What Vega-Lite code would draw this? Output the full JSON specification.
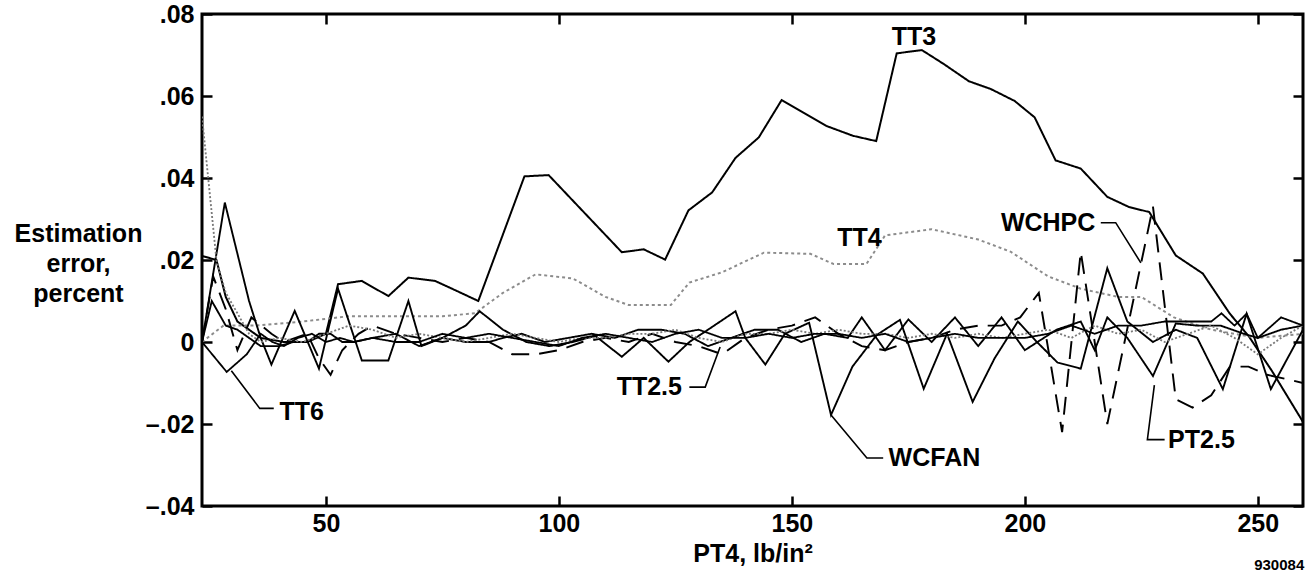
{
  "$schema": "https://vega.github.io/schema/vega-lite/v6.json",
  "width": 1101,
  "height": 492,
  "autosize": {"type": "none"},
  "padding": {"left": 202, "top": 14, "right": 12, "bottom": 73},
  "background": "white",
  "config": {
    "view": {"stroke": "black", "strokeWidth": 3},
    "font": "Liberation Sans",
    "axis": {
      "grid": false, "domain": false,
      "labelFont": "Liberation Sans", "labelFontSize": 25, "labelFontWeight": "bold", "labelColor": "black",
      "tickColor": "black", "tickWidth": 2.5, "tickSize": -10,
      "titleFont": "Liberation Sans", "titleFontSize": 25, "titleFontWeight": "bold", "titleColor": "black"
    }
  },
  "title": {"text": "930084", "orient": "bottom", "anchor": "end", "fontSize": 15, "fontWeight": "bold", "font": "Liberation Sans", "color": "black", "offset": -8},
  "datasets": {
    "series": [
      {"s":"TT3","x":23.4,"y":0.021},{"s":"TT3","x":26.5,"y":0.020},{"s":"TT3","x":28.5,"y":0.011},{"s":"TT3","x":31,"y":0.005},{"s":"TT3","x":36,"y":0.001},{"s":"TT3","x":41,"y":0.0},{"s":"TT3","x":46,"y":0.0},{"s":"TT3","x":50,"y":0.002},{"s":"TT3","x":52.6,"y":0.0141},{"s":"TT3","x":57.7,"y":0.0149},{"s":"TT3","x":63.4,"y":0.0112},{"s":"TT3","x":67.7,"y":0.0157},{"s":"TT3","x":73.4,"y":0.0149},{"s":"TT3","x":78,"y":0.0125},{"s":"TT3","x":82.7,"y":0.0100},{"s":"TT3","x":92.6,"y":0.0404},{"s":"TT3","x":97.8,"y":0.0407},{"s":"TT3","x":113.5,"y":0.0219},{"s":"TT3","x":118.2,"y":0.0226},{"s":"TT3","x":122.8,"y":0.0201},{"s":"TT3","x":127.8,"y":0.0321},{"s":"TT3","x":132.9,"y":0.0365},{"s":"TT3","x":137.9,"y":0.0449},{"s":"TT3","x":142.9,"y":0.0499},{"s":"TT3","x":147.8,"y":0.0590},{"s":"TT3","x":157.4,"y":0.0527},{"s":"TT3","x":163.1,"y":0.0503},{"s":"TT3","x":168.1,"y":0.0490},{"s":"TT3","x":172.5,"y":0.0704},{"s":"TT3","x":177.9,"y":0.0712},{"s":"TT3","x":182.6,"y":0.0678},{"s":"TT3","x":188,"y":0.0636},{"s":"TT3","x":192.7,"y":0.0617},{"s":"TT3","x":197.8,"y":0.0588},{"s":"TT3","x":202.1,"y":0.0548},{"s":"TT3","x":206.6,"y":0.0443},{"s":"TT3","x":212,"y":0.0423},{"s":"TT3","x":217.7,"y":0.0354},{"s":"TT3","x":222.4,"y":0.0329},{"s":"TT3","x":226.7,"y":0.0317},{"s":"TT3","x":232.4,"y":0.0211},{"s":"TT3","x":238.2,"y":0.0167},{"s":"TT3","x":244,"y":0.0069},{"s":"TT3","x":248,"y":0.0015},{"s":"TT3","x":253,"y":-0.007},{"s":"TT3","x":259.7,"y":-0.0195},

      {"s":"TT4","x":23.4,"y":0.0},{"s":"TT4","x":28,"y":0.004},{"s":"TT4","x":35,"y":0.004},{"s":"TT4","x":45,"y":0.005},{"s":"TT4","x":55,"y":0.0063},{"s":"TT4","x":65,"y":0.0063},{"s":"TT4","x":75,"y":0.0063},{"s":"TT4","x":82,"y":0.007},{"s":"TT4","x":88,"y":0.012},{"s":"TT4","x":95,"y":0.0165},{"s":"TT4","x":103,"y":0.0155},{"s":"TT4","x":110,"y":0.011},{"s":"TT4","x":115,"y":0.009},{"s":"TT4","x":124,"y":0.009},{"s":"TT4","x":128,"y":0.0145},{"s":"TT4","x":135,"y":0.017},{"s":"TT4","x":144,"y":0.0218},{"s":"TT4","x":154,"y":0.0215},{"s":"TT4","x":159,"y":0.019},{"s":"TT4","x":166,"y":0.019},{"s":"TT4","x":170,"y":0.026},{"s":"TT4","x":180,"y":0.0275},{"s":"TT4","x":190,"y":0.025},{"s":"TT4","x":197,"y":0.022},{"s":"TT4","x":205,"y":0.016},{"s":"TT4","x":212,"y":0.013},{"s":"TT4","x":220,"y":0.011},{"s":"TT4","x":225,"y":0.011},{"s":"TT4","x":232,"y":0.006},{"s":"TT4","x":240,"y":0.003},{"s":"TT4","x":250,"y":0.001},{"s":"TT4","x":259.7,"y":0.002},

      {"s":"WCHPC","x":23.4,"y":0.0},{"s":"WCHPC","x":25.8,"y":0.016},{"s":"WCHPC","x":28.5,"y":0.008},{"s":"WCHPC","x":31,"y":-0.002},{"s":"WCHPC","x":34,"y":0.006},{"s":"WCHPC","x":38.3,"y":0.002},{"s":"WCHPC","x":41,"y":0.0},{"s":"WCHPC","x":46,"y":0.002},{"s":"WCHPC","x":48.5,"y":-0.004},{"s":"WCHPC","x":51,"y":-0.008},{"s":"WCHPC","x":53.5,"y":-0.002},{"s":"WCHPC","x":57,"y":0.002},{"s":"WCHPC","x":60,"y":0.004},{"s":"WCHPC","x":65,"y":0.002},{"s":"WCHPC","x":70,"y":0.001},{"s":"WCHPC","x":75,"y":0.0},{"s":"WCHPC","x":80,"y":0.001},{"s":"WCHPC","x":85,"y":0.0},{"s":"WCHPC","x":90,"y":-0.003},{"s":"WCHPC","x":95,"y":-0.003},{"s":"WCHPC","x":100,"y":-0.002},{"s":"WCHPC","x":105,"y":0.0},{"s":"WCHPC","x":110,"y":0.001},{"s":"WCHPC","x":115,"y":0.0},{"s":"WCHPC","x":120,"y":0.002},{"s":"WCHPC","x":125,"y":0.0},{"s":"WCHPC","x":130,"y":-0.001},{"s":"WCHPC","x":135,"y":-0.003},{"s":"WCHPC","x":140,"y":0.001},{"s":"WCHPC","x":145,"y":0.003},{"s":"WCHPC","x":150,"y":0.004},{"s":"WCHPC","x":155,"y":0.006},{"s":"WCHPC","x":160,"y":0.002},{"s":"WCHPC","x":165,"y":-0.001},{"s":"WCHPC","x":170,"y":-0.002},{"s":"WCHPC","x":175,"y":0.0},{"s":"WCHPC","x":180,"y":0.001},{"s":"WCHPC","x":185,"y":0.003},{"s":"WCHPC","x":190,"y":0.004},{"s":"WCHPC","x":195,"y":0.004},{"s":"WCHPC","x":199,"y":0.006},{"s":"WCHPC","x":203,"y":0.012},{"s":"WCHPC","x":208,"y":-0.022},{"s":"WCHPC","x":212,"y":0.022},{"s":"WCHPC","x":217.7,"y":-0.02},{"s":"WCHPC","x":227.5,"y":0.033},{"s":"WCHPC","x":232.4,"y":-0.014},{"s":"WCHPC","x":236,"y":-0.016},{"s":"WCHPC","x":240,"y":-0.013},{"s":"WCHPC","x":244,"y":-0.006},{"s":"WCHPC","x":248,"y":-0.006},{"s":"WCHPC","x":252,"y":-0.008},{"s":"WCHPC","x":256,"y":-0.009},{"s":"WCHPC","x":259.7,"y":-0.01},

      {"s":"WCFAN","x":23.4,"y":0.0},{"s":"WCFAN","x":28.3,"y":0.034},{"s":"WCFAN","x":33.5,"y":0.010},{"s":"WCFAN","x":36,"y":0.001},{"s":"WCFAN","x":38.3,"y":-0.0055},{"s":"WCFAN","x":43.3,"y":0.0076},{"s":"WCFAN","x":48.5,"y":-0.0065},{"s":"WCFAN","x":52.6,"y":0.013},{"s":"WCFAN","x":55.5,"y":0.003},{"s":"WCFAN","x":57.7,"y":-0.0045},{"s":"WCFAN","x":63.4,"y":-0.0045},{"s":"WCFAN","x":67.7,"y":0.010},{"s":"WCFAN","x":70.5,"y":-0.001},{"s":"WCFAN","x":75,"y":0.001},{"s":"WCFAN","x":80,"y":0.004},{"s":"WCFAN","x":83,"y":0.0075},{"s":"WCFAN","x":88,"y":0.003},{"s":"WCFAN","x":93,"y":0.0},{"s":"WCFAN","x":98,"y":-0.001},{"s":"WCFAN","x":103,"y":0.0},{"s":"WCFAN","x":107.8,"y":0.0015},{"s":"WCFAN","x":113.5,"y":-0.0036},{"s":"WCFAN","x":118.2,"y":0.001},{"s":"WCFAN","x":123.5,"y":-0.0048},{"s":"WCFAN","x":128,"y":0.0},{"s":"WCFAN","x":132,"y":0.003},{"s":"WCFAN","x":137.9,"y":0.0075},{"s":"WCFAN","x":140,"y":0.001},{"s":"WCFAN","x":144.3,"y":-0.0055},{"s":"WCFAN","x":148.5,"y":0.002},{"s":"WCFAN","x":153.7,"y":0.0047},{"s":"WCFAN","x":158.4,"y":-0.0178},{"s":"WCFAN","x":163,"y":-0.006},{"s":"WCFAN","x":168.2,"y":0.0017},{"s":"WCFAN","x":173.2,"y":0.0054},{"s":"WCFAN","x":178.3,"y":-0.0114},{"s":"WCFAN","x":183.3,"y":0.002},{"s":"WCFAN","x":188.8,"y":-0.0146},{"s":"WCFAN","x":193.5,"y":-0.004},{"s":"WCFAN","x":198.5,"y":0.005},{"s":"WCFAN","x":202.6,"y":0.0},{"s":"WCFAN","x":207,"y":-0.005},{"s":"WCFAN","x":212,"y":-0.0065},{"s":"WCFAN","x":217.7,"y":0.018},{"s":"WCFAN","x":222,"y":0.005},{"s":"WCFAN","x":227.5,"y":0.0},{"s":"WCFAN","x":232.4,"y":0.003},{"s":"WCFAN","x":237,"y":0.001},{"s":"WCFAN","x":242.5,"y":-0.0115},{"s":"WCFAN","x":247.6,"y":0.0069},{"s":"WCFAN","x":252.8,"y":-0.0115},{"s":"WCFAN","x":259.7,"y":0.003},

      {"s":"PT2.5","x":23.4,"y":0.0},{"s":"PT2.5","x":25.5,"y":0.010},{"s":"PT2.5","x":28.5,"y":0.004},{"s":"PT2.5","x":31,"y":0.003},{"s":"PT2.5","x":33.5,"y":0.001},{"s":"PT2.5","x":36,"y":-0.001},{"s":"PT2.5","x":40,"y":-0.001},{"s":"PT2.5","x":43,"y":0.0},{"s":"PT2.5","x":46,"y":0.0},{"s":"PT2.5","x":48.5,"y":0.002},{"s":"PT2.5","x":51,"y":0.002},{"s":"PT2.5","x":53.5,"y":0.0},{"s":"PT2.5","x":56,"y":0.0},{"s":"PT2.5","x":60,"y":0.001},{"s":"PT2.5","x":65,"y":0.002},{"s":"PT2.5","x":70,"y":-0.001},{"s":"PT2.5","x":75,"y":0.001},{"s":"PT2.5","x":80,"y":0.0},{"s":"PT2.5","x":85,"y":0.0},{"s":"PT2.5","x":88,"y":0.001},{"s":"PT2.5","x":92,"y":0.002},{"s":"PT2.5","x":97,"y":0.0},{"s":"PT2.5","x":102,"y":0.001},{"s":"PT2.5","x":107,"y":0.002},{"s":"PT2.5","x":112,"y":0.001},{"s":"PT2.5","x":117,"y":0.003},{"s":"PT2.5","x":122,"y":0.003},{"s":"PT2.5","x":127,"y":0.002},{"s":"PT2.5","x":132,"y":-0.001},{"s":"PT2.5","x":137,"y":0.001},{"s":"PT2.5","x":142,"y":0.003},{"s":"PT2.5","x":147,"y":0.003},{"s":"PT2.5","x":152,"y":0.0},{"s":"PT2.5","x":157,"y":0.002},{"s":"PT2.5","x":162,"y":0.001},{"s":"PT2.5","x":165,"y":0.006},{"s":"PT2.5","x":170,"y":-0.002},{"s":"PT2.5","x":175,"y":0.0055},{"s":"PT2.5","x":180,"y":0.0},{"s":"PT2.5","x":185,"y":0.006},{"s":"PT2.5","x":190,"y":-0.001},{"s":"PT2.5","x":195,"y":0.006},{"s":"PT2.5","x":200,"y":-0.002},{"s":"PT2.5","x":206.8,"y":0.003},{"s":"PT2.5","x":212,"y":0.005},{"s":"PT2.5","x":215,"y":-0.002},{"s":"PT2.5","x":217.7,"y":0.006},{"s":"PT2.5","x":222,"y":0.001},{"s":"PT2.5","x":227.5,"y":-0.0083},{"s":"PT2.5","x":232.4,"y":0.0045},{"s":"PT2.5","x":237,"y":0.004},{"s":"PT2.5","x":242,"y":0.004},{"s":"PT2.5","x":247,"y":0.002},{"s":"PT2.5","x":250,"y":0.001},{"s":"PT2.5","x":255,"y":0.003},{"s":"PT2.5","x":259.7,"y":0.004},

      {"s":"TT2.5","x":23.4,"y":0.055},{"s":"TT2.5","x":26.5,"y":0.020},{"s":"TT2.5","x":28.5,"y":0.012},{"s":"TT2.5","x":31,"y":0.007},{"s":"TT2.5","x":33.5,"y":0.002},{"s":"TT2.5","x":36,"y":0.0},{"s":"TT2.5","x":40,"y":0.001},{"s":"TT2.5","x":45,"y":0.0},{"s":"TT2.5","x":50,"y":0.002},{"s":"TT2.5","x":55,"y":0.004},{"s":"TT2.5","x":60,"y":0.003},{"s":"TT2.5","x":65,"y":0.001},{"s":"TT2.5","x":70,"y":0.002},{"s":"TT2.5","x":75,"y":0.001},{"s":"TT2.5","x":80,"y":0.0},{"s":"TT2.5","x":85,"y":0.001},{"s":"TT2.5","x":90,"y":0.002},{"s":"TT2.5","x":95,"y":0.001},{"s":"TT2.5","x":100,"y":0.0},{"s":"TT2.5","x":105,"y":0.001},{"s":"TT2.5","x":110,"y":0.001},{"s":"TT2.5","x":115,"y":0.002},{"s":"TT2.5","x":120,"y":0.002},{"s":"TT2.5","x":125,"y":0.003},{"s":"TT2.5","x":130,"y":0.001},{"s":"TT2.5","x":135,"y":0.0},{"s":"TT2.5","x":140,"y":0.002},{"s":"TT2.5","x":145,"y":0.002},{"s":"TT2.5","x":150,"y":0.003},{"s":"TT2.5","x":155,"y":0.002},{"s":"TT2.5","x":160,"y":0.003},{"s":"TT2.5","x":165,"y":0.002},{"s":"TT2.5","x":170,"y":0.002},{"s":"TT2.5","x":175,"y":0.001},{"s":"TT2.5","x":180,"y":0.002},{"s":"TT2.5","x":185,"y":0.001},{"s":"TT2.5","x":190,"y":0.002},{"s":"TT2.5","x":195,"y":0.001},{"s":"TT2.5","x":200,"y":0.002},{"s":"TT2.5","x":205,"y":0.003},{"s":"TT2.5","x":210,"y":0.001},{"s":"TT2.5","x":215,"y":0.004},{"s":"TT2.5","x":220,"y":0.002},{"s":"TT2.5","x":225,"y":0.003},{"s":"TT2.5","x":230,"y":0.0},{"s":"TT2.5","x":235,"y":0.002},{"s":"TT2.5","x":240,"y":0.004},{"s":"TT2.5","x":245,"y":0.001},{"s":"TT2.5","x":250,"y":-0.003},{"s":"TT2.5","x":255,"y":0.001},{"s":"TT2.5","x":259.7,"y":0.004},

      {"s":"TT6","x":23.4,"y":0.0},{"s":"TT6","x":28.7,"y":-0.0073},{"s":"TT6","x":33,"y":-0.003},{"s":"TT6","x":36,"y":0.002},{"s":"TT6","x":38.5,"y":0.0},{"s":"TT6","x":41,"y":-0.001},{"s":"TT6","x":44,"y":0.001},{"s":"TT6","x":47,"y":0.002},{"s":"TT6","x":50,"y":0.0},{"s":"TT6","x":53,"y":0.001},{"s":"TT6","x":56,"y":0.0},{"s":"TT6","x":60,"y":0.001},{"s":"TT6","x":65,"y":0.0},{"s":"TT6","x":70,"y":0.0},{"s":"TT6","x":75,"y":0.002},{"s":"TT6","x":80,"y":0.001},{"s":"TT6","x":85,"y":0.002},{"s":"TT6","x":90,"y":0.001},{"s":"TT6","x":95,"y":0.0},{"s":"TT6","x":100,"y":-0.001},{"s":"TT6","x":105,"y":0.001},{"s":"TT6","x":110,"y":0.002},{"s":"TT6","x":115,"y":0.001},{"s":"TT6","x":120,"y":0.0},{"s":"TT6","x":125,"y":0.002},{"s":"TT6","x":130,"y":0.003},{"s":"TT6","x":135,"y":0.001},{"s":"TT6","x":140,"y":0.001},{"s":"TT6","x":145,"y":0.002},{"s":"TT6","x":150,"y":0.001},{"s":"TT6","x":155,"y":0.002},{"s":"TT6","x":160,"y":0.002},{"s":"TT6","x":165,"y":0.001},{"s":"TT6","x":170,"y":0.002},{"s":"TT6","x":175,"y":0.0},{"s":"TT6","x":180,"y":0.001},{"s":"TT6","x":185,"y":0.002},{"s":"TT6","x":190,"y":0.001},{"s":"TT6","x":195,"y":0.001},{"s":"TT6","x":200,"y":0.001},{"s":"TT6","x":205,"y":0.002},{"s":"TT6","x":210,"y":0.004},{"s":"TT6","x":215,"y":0.002},{"s":"TT6","x":220,"y":0.004},{"s":"TT6","x":225,"y":0.004},{"s":"TT6","x":230,"y":0.005},{"s":"TT6","x":235,"y":0.005},{"s":"TT6","x":240,"y":0.005},{"s":"TT6","x":242.2,"y":0.007},{"s":"TT6","x":245,"y":0.004},{"s":"TT6","x":247.6,"y":0.0069},{"s":"TT6","x":250,"y":0.001},{"s":"TT6","x":253,"y":0.004},{"s":"TT6","x":255,"y":0.006},{"s":"TT6","x":259.7,"y":0.004}
    ],
    "labels": [
      {"t":"TT3","x":176.2,"y":0.0745},
      {"t":"TT4","x":164.5,"y":0.0254},
      {"t":"WCHPC","x":205,"y":0.0291},
      {"t":"WCFAN","x":180.6,"y":-0.0283},
      {"t":"PT2.5","x":237.9,"y":-0.0238},
      {"t":"TT2.5","x":119.4,"y":-0.011},
      {"t":"TT6","x":44.8,"y":-0.017}
    ],
    "leaders": [
      {"l":"TT6","o":1,"x":38.8,"y":-0.0162},{"l":"TT6","o":2,"x":35.8,"y":-0.0162},{"l":"TT6","o":3,"x":29.7,"y":-0.007},
      {"l":"TT2.5","o":1,"x":128.0,"y":-0.011},{"l":"TT2.5","o":2,"x":131.4,"y":-0.011},{"l":"TT2.5","o":3,"x":134.6,"y":-0.0012},
      {"l":"WCFAN","o":1,"x":169.6,"y":-0.0283},{"l":"WCFAN","o":2,"x":166.1,"y":-0.0283},{"l":"WCFAN","o":3,"x":158.4,"y":-0.0178},
      {"l":"PT2.5","o":1,"x":230.0,"y":-0.0238},{"l":"PT2.5","o":2,"x":226.3,"y":-0.0238},{"l":"PT2.5","o":3,"x":227.8,"y":-0.0105},
      {"l":"WCHPC","o":1,"x":216.3,"y":0.0291},{"l":"WCHPC","o":2,"x":219.5,"y":0.0291},{"l":"WCHPC","o":3,"x":224.9,"y":0.0193}
    ]
  },
  "layer": [
    {
      "data": {"name": "series"},
      "mark": {"type": "line", "clip": true},
      "encoding": {
        "x": {"field": "x", "type": "quantitative",
              "scale": {"domain": [23.4, 259.7], "nice": false, "zero": false},
              "axis": {"orient": "bottom", "values": [50, 100, 150, 200, 250], "title": "PT4, lb/in²",
                       "labelPadding": 15, "titleY": 47, "titleBaseline": "middle"}},
        "y": {"field": "y", "type": "quantitative",
              "scale": {"domain": [-0.04, 0.08], "nice": false, "zero": false},
              "axis": {"orient": "left", "values": [-0.04, -0.02, 0, 0.02, 0.04, 0.06, 0.08],
                       "labelExpr": "datum.value == 0 ? '0' : (datum.value < 0 ? '–' : '') + replace(format(abs(datum.value), '.2f'), '0.', '.')",
                       "labelPadding": 18, "labelBaseline": "middle",
                       "title": ["Estimation", "error,", "percent"], "titleAngle": 0, "titleAlign": "center", "titleBaseline": "middle",
                       "titleX": -124, "titleY": 219, "titleLineHeight": 30}},
        "color": {"field": "s", "type": "nominal", "legend": null,
                  "scale": {"domain": ["TT3", "TT4", "WCHPC", "WCFAN", "PT2.5", "TT2.5", "TT6"],
                            "range": ["black", "#8c8c8c", "black", "black", "black", "#7a7a7a", "black"]}},
        "strokeDash": {"field": "s", "type": "nominal", "legend": null,
                  "scale": {"domain": ["TT3", "TT4", "WCHPC", "WCFAN", "PT2.5", "TT2.5", "TT6"],
                            "range": [[1, 0], [3, 3], [18, 10], [1, 0], [1, 0], [2, 2], [1, 0]]}},
        "strokeWidth": {"field": "s", "type": "nominal", "legend": null,
                  "scale": {"domain": ["TT3", "TT4", "WCHPC", "WCFAN", "PT2.5", "TT2.5", "TT6"],
                            "range": [2, 1.8, 3, 1.4, 2.6, 1.6, 1.6]}}
      }
    },
    {
      "data": {"name": "leaders"},
      "mark": {"type": "line", "color": "black", "strokeWidth": 1.6},
      "encoding": {
        "x": {"field": "x", "type": "quantitative", "axis": null},
        "y": {"field": "y", "type": "quantitative", "axis": null},
        "detail": {"field": "l"},
        "order": {"field": "o", "type": "quantitative"}
      }
    },
    {
      "data": {"name": "labels"},
      "mark": {"type": "text", "font": "Liberation Sans", "fontSize": 25, "fontWeight": "bold", "color": "black", "align": "center", "baseline": "middle"},
      "encoding": {
        "x": {"field": "x", "type": "quantitative",
              "axis": {"orient": "top", "values": [50, 100, 150, 200, 250], "labels": false, "title": null}},
        "y": {"field": "y", "type": "quantitative",
              "axis": {"orient": "right", "values": [-0.04, -0.02, 0, 0.02, 0.04, 0.06, 0.08], "labels": false, "title": null}},
        "text": {"field": "t"}
      }
    }
  ],
  "resolve": {"axis": {"x": "independent", "y": "independent"}}
}
